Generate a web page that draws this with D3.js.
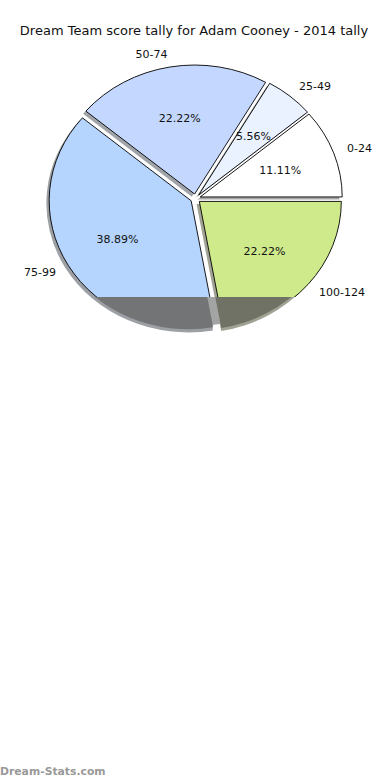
<!DOCTYPE html>
<html>
<head>
<meta charset="utf-8">
<script src="https://cdn.jsdelivr.net/npm/d3@7"></script>
<style>
  body { margin: 0; background: #fff; }
  text { font-family: "DejaVu Sans", sans-serif; }
</style>
</head>
<body>
<div id="chart"></div>
<script>
// data
var labels = ["0-24", "25-49", "50-74", "75-99", "100-124"];
var counts = [2, 1, 4, 7, 4];
var colors = ["#ffffff", "#eaf2ff", "#c4d8ff", "#b5d5ff", "#cfea8b"];
var shadowColors = ["#a6a6a6", "#a3a5a8", "#a0a4a8", "#9c9fa3", "#a0a294"];
var darkColors = ["#777777", "#767779", "#747577", "#737476", "#6f7264"];

var svgWidth = 390, svgHeight = 780;
var cx = 195.5, cy = 198.5;
var rx = 142, ry = 129;   // pie is squashed vertically
var explode = 5;
var clipY = 297;          // bottom of the plot area
var shadowDx = -2.8, shadowDy = 2.9;

var svg = d3.select("#chart").append("svg")
    .attr("width", svgWidth)
    .attr("height", svgHeight);

svg.append("text")
    .attr("x", 194)
    .attr("y", 35)
    .attr("text-anchor", "middle")
    .attr("font-size", "13px")
    .attr("fill", "#111")
    .text("Dream Team score tally for Adam Cooney - 2014 tally");

var defs = svg.append("defs");
defs.append("clipPath").attr("id", "top")
  .append("rect").attr("x", 0).attr("y", 0).attr("width", svgWidth).attr("height", clipY);
defs.append("clipPath").attr("id", "bottom")
  .append("rect").attr("x", 0).attr("y", clipY).attr("width", svgWidth).attr("height", svgHeight - clipY);

// start at 3 o'clock, go counter-clockwise
var pie = d3.pie().sort(null).value(d => d)
    .startAngle(Math.PI / 2)
    .endAngle(Math.PI / 2 - 2 * Math.PI);
var arcs = pie(counts);
var total = d3.sum(counts);

var arc = d3.arc().innerRadius(0).outerRadius(rx);
var darkArc = d3.arc().innerRadius(0).outerRadius(rx - 1);

function mid(d) { return (d.startAngle + d.endAngle) / 2; }
function offset(d, dist) {
    var a = mid(d);
    return [Math.sin(a) * dist, -Math.cos(a) * dist];
}
function pieLayer(parent) {
    return parent.append("g")
        .attr("transform", `translate(${cx}, ${cy}) scale(1, ${ry / rx})`);
}
function shift(dx, dy) {
    return d => {
        var o = offset(d, explode);
        return `translate(${o[0] + dx}, ${o[1] + dy})`;
    };
}

// shadow
pieLayer(svg).selectAll("path")
    .data(arcs)
    .enter()
    .append("path")
    .attr("d", arc)
    .attr("transform", shift(shadowDx, shadowDy))
    .attr("fill", (d, i) => shadowColors[i]);

// slices in the plot area
pieLayer(svg.append("g").attr("clip-path", "url(#top)"))
    .selectAll("path")
    .data(arcs)
    .enter()
    .append("path")
    .attr("d", arc)
    .attr("transform", shift(0, 0))
    .attr("fill", (d, i) => colors[i])
    .attr("stroke", "#000")
    .attr("stroke-width", 0.9)
    .attr("vector-effect", "non-scaling-stroke")
    .attr("stroke-linejoin", "round");

// below the plot area the pie comes out as a darkened shadow
var bottom = pieLayer(svg.append("g").attr("clip-path", "url(#bottom)"));

bottom.append("circle")
    .attr("cx", shadowDx)
    .attr("cy", shadowDy)
    .attr("r", rx - 4)
    .attr("fill", "#a3a4a4");

bottom.selectAll("path.dark")
    .data(arcs)
    .enter()
    .append("path")
    .attr("class", "dark")
    .attr("d", darkArc)
    .attr("transform", shift(-2.5, 0.5))
    .attr("fill", (d, i) => darkColors[i]);

// outer labels
arcs.forEach(function(d, i) {
    var o = offset(d, rx * 1.1 + explode);
    svg.append("text")
        .attr("x", cx + o[0])
        .attr("y", cy + o[1] * ry / rx)
        .attr("dy", "0.35em")
        .attr("text-anchor", o[0] > 0 ? "start" : "end")
        .attr("font-size", "11px")
        .attr("fill", "#111")
        .text(labels[i]);
});

// percentages
arcs.forEach(function(d, i) {
    var o = offset(d, rx * 0.6 + explode);
    svg.append("text")
        .attr("x", cx + o[0])
        .attr("y", cy + o[1] * ry / rx)
        .attr("dy", "0.35em")
        .attr("text-anchor", "middle")
        .attr("font-size", "11px")
        .attr("fill", "#111")
        .text((counts[i] / total * 100).toFixed(2) + "%");
});

svg.append("text")
    .attr("x", 0)
    .attr("y", 775)
    .attr("font-family", "'Open Sans', sans-serif")
    .attr("font-weight", "600")
    .attr("font-size", "10.8px")
    .attr("fill", "#999")
    .text("Dream-Stats.com");
</script>
</body>
</html>
